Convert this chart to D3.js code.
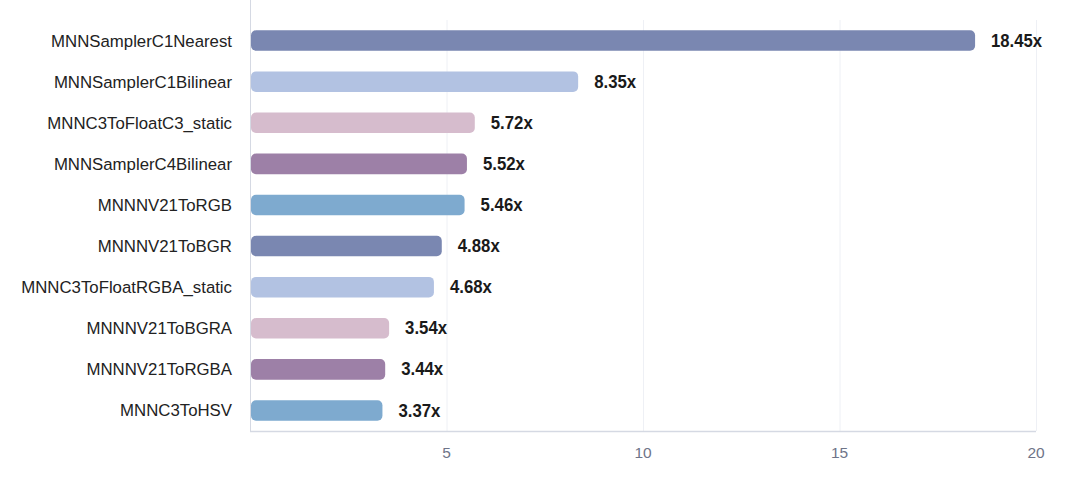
<!DOCTYPE html>
<html>
<head>
<meta charset="utf-8">
<script src="https://cdnjs.cloudflare.com/ajax/libs/d3/7.8.5/d3.min.js"></script>
<style>
body { margin: 0; background: #fff; }
svg { display: block; }
</style>
</head>
<body>
<svg id="chart" width="1080" height="481"></svg>
<script>
// data
var names = ["MNNSamplerC1Nearest", "MNNSamplerC1Bilinear", "MNNC3ToFloatC3_static",
  "MNNSamplerC4Bilinear", "MNNNV21ToRGB", "MNNNV21ToBGR", "MNNC3ToFloatRGBA_static",
  "MNNNV21ToBGRA", "MNNNV21ToRGBA", "MNNC3ToHSV"]
var speedups = [18.45, 8.35, 5.72, 5.52, 5.46, 4.88, 4.68, 3.54, 3.44, 3.37]
var xTicks = [5, 10, 15, 20]
var palette = ["#7a87b1", "#b2c2e2", "#d6bccd", "#9d80a7", "#7eaacf"]

var svg = d3.select("#chart")
var plotLeft = 250, plotRight = 1036, plotTop = 20, plotBottom = 431

var x = d3.scaleLinear().domain([0, 20]).range([plotLeft, plotRight])
var y = d3.scaleBand().domain(names).range([plotTop, plotBottom]).paddingInner(0.5).paddingOuter(0.25)

// grid
svg.append("g").selectAll("line").data(xTicks).enter().append("line")
  .attr("x1", d => x(d) + 0.5).attr("x2", d => x(d) + 0.5)
  .attr("y1", plotTop).attr("y2", plotBottom)
  .attr("stroke", "#eef0f5").attr("stroke-width", 1)

// left and bottom axis lines
svg.append("line").attr("x1", plotLeft + 0.5).attr("x2", plotLeft + 0.5)
  .attr("y1", 0).attr("y2", plotBottom).attr("stroke", "#d5d9e3")
svg.append("line").attr("x1", plotLeft).attr("x2", plotRight)
  .attr("y1", plotBottom + 0.5).attr("y2", plotBottom + 0.5).attr("stroke", "#d5d9e3").attr("stroke-width", 1.5)

// bars
svg.append("g").selectAll("rect").data(speedups).enter().append("rect")
  .attr("x", x(0) + 1)
  .attr("y", (d, i) => y(names[i]))
  .attr("width", d => x(d) - x(0) - 1)
  .attr("height", y.bandwidth())
  .attr("rx", 5).attr("ry", 5)
  .attr("fill", (d, i) => palette[i % palette.length])

// value labels
svg.append("g").selectAll("text").data(speedups).enter().append("text")
  .attr("x", d => x(d) + 16)
  .attr("y", (d, i) => y(names[i]) + y.bandwidth() / 2)
  .attr("dy", "0.35em")
  .attr("font-family", "Liberation Sans, Arial, sans-serif")
  .attr("font-size", 17.5).attr("font-weight", "bold").attr("fill", "#1a1a1a")
  .attr("textLength", d => d >= 10 ? 51 : 42).attr("lengthAdjust", "spacingAndGlyphs")
  .text(d => d.toFixed(2) + "x")

// category labels
svg.append("g").selectAll("text").data(names).enter().append("text")
  .attr("x", 232)
  .attr("y", d => y(d) + y.bandwidth() / 2)
  .attr("dy", "0.36em")
  .attr("text-anchor", "end")
  .attr("font-family", "Liberation Sans, Arial, sans-serif")
  .attr("font-size", 16.8).attr("fill", "#222")
  .text(d => d)

// x tick labels
svg.append("g").selectAll("text").data(xTicks).enter().append("text")
  .attr("x", d => x(d))
  .attr("y", 458)
  .attr("text-anchor", "middle")
  .attr("font-family", "Liberation Sans, Arial, sans-serif")
  .attr("font-size", 15.5).attr("fill", "#6e7488")
  .text(d => d)
</script>
</body>
</html>
